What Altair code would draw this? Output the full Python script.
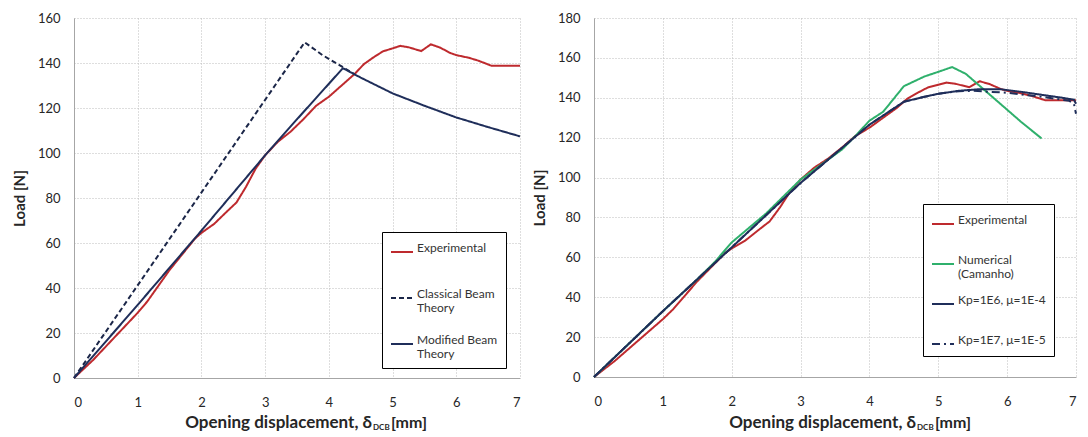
import altair as alt
import pandas as pd

# ---------------- data ----------------
exp_x = [0, 0.3, 0.6, 0.8, 1.0, 1.15, 1.35, 1.5, 1.7, 1.9, 2.0, 2.2, 2.4, 2.55, 2.7, 2.85,
         3.0, 3.2, 3.4, 3.6, 3.8, 4.0, 4.2, 4.4, 4.55, 4.7, 4.85, 5.0, 5.12, 5.25, 5.45,
         5.6, 5.75, 5.9, 6.0, 6.2, 6.35, 6.55, 7.0]
exp_y = [0, 8, 17, 23, 29, 34, 42, 48, 55, 62, 64.5, 68.5, 74, 78, 85, 93,
         99, 105, 109.5, 115, 121, 125, 130, 135, 139.5, 142.5, 145.2, 146.5, 147.6, 147, 145.3,
         148.3, 146.8, 144.5, 143.5, 142.3, 141, 138.8, 138.8]

cbt_x = [0, 3.62, 3.9, 4.2, 4.4]
cbt_y = [0, 149.2, 143.5, 138.5, 135]

mbt_x = [0, 1.0, 2.0, 3.0, 3.5, 4.22, 4.5, 5.0, 5.5, 6.0, 6.5, 7.0]
mbt_y = [0, 32.5, 65.5, 99, 115, 137.7, 133.5, 126.5, 121, 115.8, 111.5, 107.4]

num_x = [0, 1.0, 1.5, 1.75, 2.0, 2.5, 3.0, 3.6, 3.8, 4.0, 4.2, 4.5, 4.8, 5.0, 5.2,
         5.4, 5.6, 5.8, 6.0, 6.2, 6.5]
num_y = [0, 33, 49, 57.5, 67.5, 82, 99, 114, 121, 128.5, 133, 145.8, 150.7, 153, 155.4,
         152, 146, 140, 134, 128, 119.6]

kp6_x = [0, 1.0, 2.0, 3.0, 4.0, 4.5, 4.8, 5.0, 5.3, 5.6, 5.9, 6.2, 6.5, 6.8, 6.97, 7.0]
kp6_y = [0, 33, 65, 97.3, 126.5, 138, 140.5, 142, 143.5, 144.3, 144.3, 143, 141.5, 140, 139, 137]

kp7_x = [0, 1.0, 2.0, 3.0, 4.0, 4.5, 4.8, 5.0, 5.3, 5.5, 6.0, 6.5, 6.9, 6.97, 7.0]
kp7_y = [0, 33, 65, 97.3, 126.5, 138, 140.5, 142, 143.3, 143.5, 142.5, 140.5, 138.5, 137, 132]

left_names = ["Experimental", "Classical Beam|Theory", "Modified Beam|Theory"]
right_names = ["Experimental", "Numerical|(Camanho)", "Kp=1E6, μ=1E-4", "Kp=1E7, μ=1E-5"]

x_ticks = [0, 1, 2, 3, 4, 5, 6, 7]
left_y_ticks = [0, 20, 40, 60, 80, 100, 120, 140, 160]
right_y_ticks = [0, 20, 40, 60, 80, 100, 120, 140, 160, 180]

y_title = "Load [N]"
x_title_parts = ["Opening displacement, δ", "DCB", "[mm]"]

RED = "#BE2A2E"
GREEN = "#2FB06C"
NAVY = "#1F2E5A"
NAVY2 = "#1B2648"
FONT = "Lato"


def frame(name, xs, ys):
    return pd.DataFrame({"series": name, "x": xs, "y": ys, "i": range(len(xs))})


left_df = pd.concat([
    frame(left_names[0], exp_x, exp_y),
    frame(left_names[1], cbt_x, cbt_y),
    frame(left_names[2], mbt_x, mbt_y),
])
right_df = pd.concat([
    frame(right_names[0], exp_x, exp_y),
    frame(right_names[1], num_x, num_y),
    frame(right_names[2], kp6_x, kp6_y),
    frame(right_names[3], kp7_x, kp7_y),
])


def legend(lx, ly, row_pad):
    return alt.Legend(
        title=None, orient="none", legendX=lx, legendY=ly,
        strokeColor="#000000", fillColor="#FFFFFF", padding=8, cornerRadius=0,
        symbolType="stroke", symbolSize=484, symbolStrokeWidth=2,
        labelFont=FONT, labelFontSize=12, labelColor="#333333", labelLimit=300,
        labelExpr="split(datum.label, '|')", labelBaseline="alphabetic",
        labelOffset=3, rowPadding=row_pad, gridAlign="all",
    )


def panel(df, names, colors, dashes, yticks, w, h, lx, ly, row_pad, title_pos):
    ymax = yticks[-1]
    leg = legend(lx, ly, row_pad)
    lines = alt.Chart(df).mark_line(strokeWidth=2).encode(
        x=alt.X("x:Q", scale=alt.Scale(domain=[0, 7], nice=False),
                axis=alt.Axis(values=x_ticks, title=None, format="d")),
        y=alt.Y("y:Q", scale=alt.Scale(domain=[0, ymax], nice=False),
                axis=alt.Axis(values=yticks, title=y_title, format="d")),
        color=alt.Color("series:N", scale=alt.Scale(domain=names, range=colors), legend=leg),
        strokeDash=alt.StrokeDash("series:N", scale=alt.Scale(domain=names, range=dashes), legend=leg),
        order="i:Q",
    )
    dx, sub_w, base_y = title_pos
    t_main = alt.Chart(pd.DataFrame({"t": [x_title_parts[0]]})).mark_text(
        font=FONT, fontSize=17, fontWeight="bold", align="right", baseline="alphabetic", color="#262626"
    ).encode(text="t:N", x=alt.value(dx), y=alt.value(base_y))
    t_sub = alt.Chart(pd.DataFrame({"t": [x_title_parts[1]]})).mark_text(
        font=FONT, fontSize=8, fontWeight="bold", align="left", baseline="alphabetic", color="#262626"
    ).encode(text="t:N", x=alt.value(dx + 1), y=alt.value(base_y + 2))
    t_unit = alt.Chart(pd.DataFrame({"t": [x_title_parts[2]]})).mark_text(
        font=FONT, fontSize=16, fontWeight="bold", align="left", baseline="alphabetic", color="#262626"
    ).encode(text="t:N", x=alt.value(dx + sub_w), y=alt.value(base_y))
    return alt.layer(lines, t_main, t_sub, t_unit).properties(width=w, height=h)


left = panel(left_df, left_names, [RED, NAVY2, NAVY], [[1, 0], [5, 3], [1, 0]],
             left_y_ticks, 446, 360, 308, 214, 18, (298, 19, 410))
right = panel(right_df, right_names, [RED, GREEN, NAVY, NAVY], [[1, 0], [1, 0], [1, 0], [8, 4, 2, 4]],
              right_y_ticks, 482, 359, 329, 186, 12, (322, 19, 410))

chart = alt.hconcat(left, right, spacing=8).resolve_scale(
    color="independent", strokeDash="independent"
).resolve_legend(color="independent", strokeDash="independent").properties(
    padding={"left": 4, "top": 4, "right": 0, "bottom": 0}
).configure_view(stroke=None).configure_axis(
    labelFont=FONT, labelFontSize=13, labelColor="#262626",
    titleFont=FONT, titleFontSize=15, titleFontWeight="bold", titleColor="#262626",
    domainColor="#A6A6A6", domainWidth=1,
    gridColor="#BDBDBD", gridDash=[1, 2], gridWidth=1,
    ticks=False,
).configure_axisY(labelPadding=14, titlePadding=10).configure_axisX(labelPadding=18)

chart.save("out.html", embed_options={"renderer": "svg", "actions": False})
